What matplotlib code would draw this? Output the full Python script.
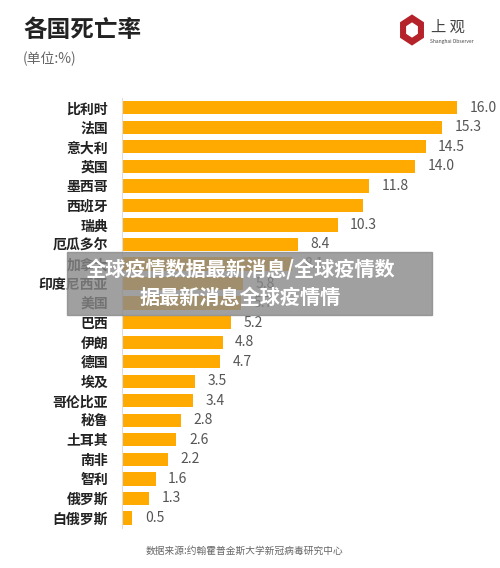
import matplotlib.pyplot as plt
from matplotlib.patches import RegularPolygon, Rectangle

plt.rcParams['font.family'] = ['Noto Sans CJK SC', 'DejaVu Sans']

countries = ["比利时", "法国", "意大利", "英国", "墨西哥", "西班牙", "瑞典", "厄瓜多尔",
             "加拿大", "印度尼西亚", "美国", "巴西", "伊朗", "德国", "埃及", "哥伦比亚",
             "秘鲁", "土耳其", "南非", "智利", "俄罗斯", "白俄罗斯"]
rates = [16.0, 15.3, 14.5, 14.0, 11.8, 11.5, 10.3, 8.4, 8.1, 5.8, 5.7, 5.2, 4.8, 4.7,
         3.5, 3.4, 2.8, 2.6, 2.2, 1.6, 1.3, 0.5]
labels = ["16.0", "15.3", "14.5", "14.0", "11.8", "", "10.3", "8.4", "8.1", "5.8", "5.7",
          "5.2", "4.8", "4.7", "3.5", "3.4", "2.8", "2.6", "2.2", "1.6", "1.3", "0.5"]

W, H = 500, 568
fig = plt.figure(figsize=(W / 100, H / 100), dpi=100)
ax = fig.add_axes([122 / W, 1 - 527.7 / H, (457 - 122) / W, (527.7 - 98) / H])
y = list(range(len(countries)))[::-1]
ax.barh(y, rates, height=0.68, color="#FFAA00")
for yi, v, lab in zip(y, rates, labels):
    ax.text(v + 0.6, yi, lab, va="center", ha="left", fontsize=10, color="#555555", clip_on=False)
ax.set_xlim(0, 16)
ax.set_ylim(-0.5, len(countries) - 0.5)
ax.set_yticks(y)
ax.set_yticklabels(countries, fontsize=10, fontweight="bold", color="#222222")
ax.tick_params(axis="y", length=0, pad=10)
ax.set_xticks([])
for s in ["top", "right", "bottom"]:
    ax.spines[s].set_visible(False)
ax.spines["left"].set_color("#dddddd")

fig.text(23 / W, 1 - 30 / H, "各国死亡率", fontsize=17, fontweight="bold", color="#222222", va="center")
fig.text(23 / W, 1 - 59 / H, "(单位:%)", fontsize=10, color="#666666", va="center")
fig.text(245 / W, 1 - 551 / H, "数据来源:约翰霍普金斯大学新冠病毒研究中心", fontsize=7,
         color="#666666", ha="center", va="center")

# logo
fig.patches.append(RegularPolygon((412 / W, 1 - 30 / H), 6, radius=13 / W, color="#b5222a",
                                  transform=fig.transFigure))
fig.patches.append(RegularPolygon((412 / W, 1 - 30 / H), 6, radius=6 / W, color="white",
                                  transform=fig.transFigure))
fig.text(448 / W, 1 - 27 / H, "上 观", fontsize=11, color="#444444", ha="center", va="center")
fig.text(452 / W, 1 - 41 / H, "Shanghai Observer", fontsize=3.5, color="#444444", ha="center", va="center")

# watermark banner
fig.patches.append(Rectangle((67 / W, 1 - 315 / H), (432 - 67) / W, (315 - 252) / H,
                             color="#888888", alpha=0.8, transform=fig.transFigure))
fig.text(240 / W, 1 - 269 / H, "全球疫情数据最新消息/全球疫情数", fontsize=14.5, fontweight="bold",
         color="white", ha="center", va="center")
fig.text(240 / W, 1 - 297 / H, "据最新消息全球疫情情", fontsize=14.5, fontweight="bold",
         color="white", ha="center", va="center")

fig.savefig("out.png", dpi=100)
